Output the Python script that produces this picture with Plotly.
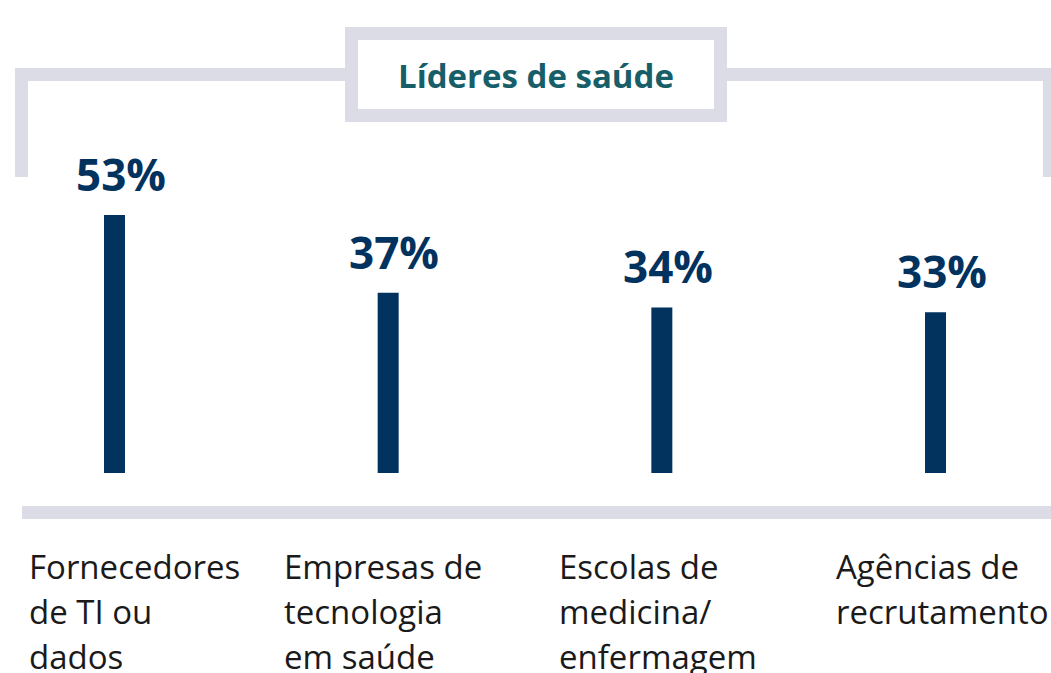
import plotly.graph_objects as go

categories = ["Fornecedores<br>de TI ou<br>dados",
              "Empresas de<br>tecnologia<br>em saúde",
              "Escolas de<br>medicina/<br>enfermagem",
              "Agências de<br>recrutamento"]
values = [53, 37, 34, 33]
value_labels = ["53%", "37%", "34%", "33%"]
group_title = "Líderes de saúde"

W, H = 1051, 673
NAVY = "#02325E"
TEAL = "#175E69"
GRAY = "#DCDCE6"
FONT = "Open Sans"

px_per_unit_x = 273.67
x0_px = 114.5
y0_px = 473.0
px_per_unit_y = 4.87

xr = [-x0_px / px_per_unit_x, (W - x0_px) / px_per_unit_x]
yr = [-(H - y0_px) / px_per_unit_y, y0_px / px_per_unit_y]

xs = list(range(len(categories)))

fig = go.Figure()
fig.add_trace(go.Bar(x=xs, y=values, width=21 / px_per_unit_x,
                     marker=dict(color=NAVY, line=dict(width=0)),
                     hoverinfo="skip"))

def px(xp):
    return xp / W

def py(yp):
    return 1 - yp / H

shapes = []
def rect(x0, y0, x1, y1, color=GRAY):
    shapes.append(dict(type="rect", xref="paper", yref="paper",
                       x0=px(x0), x1=px(x1), y0=py(y1), y1=py(y0),
                       fillcolor=color, line=dict(width=0), layer="below"))

# bracket
rect(15, 68, 28, 177)
rect(15, 68, 346, 81)
rect(726, 68, 1060, 81)
rect(1043, 68, 1060, 177)
# title box
rect(345, 27, 727, 122)
rect(358, 40, 714, 109, "white")
# baseline
rect(22, 506, 1060, 519)

annotations = []
annotations.append(dict(x=px(536), y=py(75), xref="paper", yref="paper",
                        text="<b>" + group_title + "</b>", showarrow=False,
                        xanchor="center", yanchor="middle",
                        font=dict(family=FONT, size=33, color=TEAL)))

for i, (v, lab) in enumerate(zip(values, value_labels)):
    annotations.append(dict(x=i, y=v, xref="x", yref="y", text="<b>" + lab + "</b>",
                            showarrow=False, xanchor="center", yanchor="bottom",
                            xshift=6, yshift=9,
                            font=dict(family=FONT, size=44, color=NAVY)))

label_xshift = [-88, -106, -105, -102]
line_y = [566, 611, 656]
for i, cat in enumerate(categories):
    for j, line in enumerate(cat.split("<br>")):
        annotations.append(dict(x=i, y=py(line_y[j]), xref="x", yref="paper",
                                text=line, showarrow=False,
                                xanchor="left", yanchor="middle",
                                xshift=label_xshift[i],
                                font=dict(family=FONT, size=33, color="#1a1a1a")))

fig.update_layout(width=W, height=H, margin=dict(l=0, r=0, t=0, b=0),
                  paper_bgcolor="white", plot_bgcolor="white",
                  showlegend=False, shapes=shapes, annotations=annotations,
                  xaxis=dict(range=xr, visible=False, fixedrange=True),
                  yaxis=dict(range=yr, visible=False, fixedrange=True))

fig.write_html("out.html", config={"displayModeBar": False, "staticPlot": True},
               post_script="document.body.style.margin='0';document.body.style.overflow='hidden';")
